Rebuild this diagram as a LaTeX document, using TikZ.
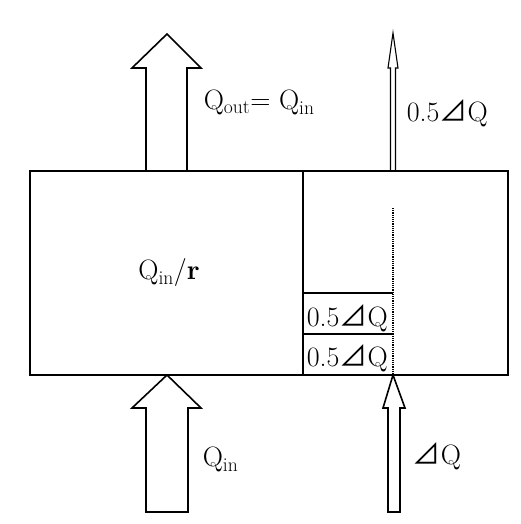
\documentclass[tikz,border=0pt]{standalone}
\usepackage{fontspec}
\newfontfamily\cjk{Noto Sans CJK JP}
\usetikzlibrary{positioning, calc}
\newcommand{\dQ}{{\cjk ⊿}Q}
\tikzset{
  every picture/.style={line width=1.6pt},
  tankbox/.style={draw, inner sep=0pt, minimum width=478pt, minimum height=204pt},
  blockarrow/.style={draw, line join=miter, line width=1.6pt},
  thinarrow/.style={draw, line join=miter, line width=1.1pt},
  lbl/.style={font=\fontsize{28}{32}\selectfont, inner sep=0pt},
  sublbl/.style={lbl, anchor=base west},
}
\begin{document}
\begin{tikzpicture}[x=1pt, y=1pt]
  \useasboundingbox (0,0) rectangle (520,524);
  % tank and its parts
  \node[tankbox] (tank) at (269,251) {};
  \node[lbl] (ratio) at (169,251) {Q\textsubscript{in}/\textbf{r}};
  \coordinate (divtop) at (303,353);
  \coordinate (divbot) at (303,149);
  \draw (divtop) -- (divbot);
  \coordinate (dottop) at (393,316);
  \coordinate (dotbot) at (393,149);
  \draw[line width=1.2pt, densely dotted] (dottop) -- (dotbot);
  \coordinate (halfa) at (393,231);
  \coordinate (halfb) at (393,190);
  \draw (divbot |- halfa) -- (halfa);
  \draw (divbot |- halfb) -- (halfb);
  \node[sublbl] (upper) at (306,197) {0.5\dQ};
  \node[sublbl] (lower) at (306,157) {0.5\dQ};
  % outflow arrows
  \draw[blockarrow] (146,353) -- (146,456) -- (132,456) -- (167,490) -- (201,456) -- (187,456) -- (187,353);
  \draw[thinarrow] (390.5,353) -- (390.5,456) -- (388,456) -- (393,491) -- (398,456) -- (395.5,456) -- (395.5,353);
  \node[sublbl] (qout) at (203,414) {Q\textsubscript{out}= Q\textsubscript{in}};
  \node[sublbl] (dout) at (406,402) {0.5\dQ};
  % inflow arrows
  \draw[blockarrow] (167,149) -- (201,116) -- (188,116) -- (188,12) -- (146,12) -- (146,116) -- (132,116) -- cycle;
  \draw[blockarrow] (393,149) -- (405,116) -- (400,116) -- (400,12) -- (388,12) -- (388,116) -- (383,116) -- cycle;
  \node[sublbl] (qin) at (202,57) {Q\textsubscript{in}};
  \node[sublbl] (din) at (412,59) {\dQ};
\end{tikzpicture}
\end{document}
